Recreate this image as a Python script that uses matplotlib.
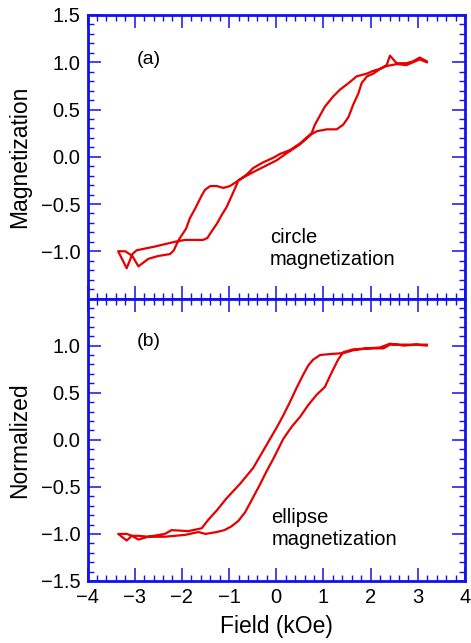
import numpy as np
import matplotlib
matplotlib.use('Agg')
import matplotlib.pyplot as plt
from matplotlib.ticker import MultipleLocator

plt.rcParams['font.family'] = ['Liberation Sans', 'DejaVu Sans']

# (a) circle magnetization: descending branch (+H -> -H), then ascending branch
a_desc_h = [3.19, 3.04, 2.90, 2.76, 2.55, 2.41, 2.34, 2.20, 2.06, 1.92, 1.70, 1.56,
            1.35, 1.21, 1.03, 0.93, 0.82, 0.75, 0.50, 0.29, 0.08, -0.06, -0.28, -0.49,
            -0.63, -0.80, -0.98, -1.12, -1.26, -1.40, -1.51, -1.58, -1.65, -1.72, -1.83,
            -1.91, -2.08, -2.17, -2.25, -2.50, -2.71, -2.92, -3.05, -3.20, -3.35]
a_desc_m = [1.01, 1.05, 1.01, 0.99, 0.99, 1.07, 0.97, 0.93, 0.91, 0.88, 0.85, 0.79,
            0.71, 0.64, 0.53, 0.44, 0.34, 0.25, 0.14, 0.07, 0.03, -0.01, -0.06, -0.12,
            -0.19, -0.25, -0.31, -0.33, -0.31, -0.31, -0.35, -0.41, -0.48, -0.55, -0.65,
            -0.76, -0.89, -0.99, -1.03, -1.05, -1.08, -1.16, -1.05, -1.00, -1.00]
a_asc_h = [-3.35, -3.17, -3.05, -2.96, -2.57, -2.15, -1.93, -1.76, -1.55, -1.46, -1.37,
           -1.26, -1.16, -1.05, -0.95, -0.87, -0.80, -0.63, -0.40, -0.20, 0.00, 0.20,
           0.50, 0.75, 0.86, 1.07, 1.28, 1.42, 1.53, 1.63, 1.74, 1.81, 1.92, 2.06, 2.20,
           2.34, 2.55, 2.76, 2.90, 3.04, 3.19]
a_asc_m = [-1.00, -1.18, -1.03, -0.99, -0.95, -0.90, -0.88, -0.88, -0.88, -0.86, -0.79,
           -0.71, -0.62, -0.53, -0.42, -0.33, -0.25, -0.20, -0.14, -0.09, -0.04, 0.03,
           0.13, 0.24, 0.27, 0.29, 0.29, 0.34, 0.42, 0.55, 0.67, 0.78, 0.85, 0.88, 0.93,
           0.96, 0.98, 0.97, 1.00, 1.03, 1.00]

# (b) ellipse magnetization
b_desc_h = [3.19, 2.97, 2.41, 2.27, 1.92, 1.63, 1.42, 1.14, 0.93, 0.78, 0.68, 0.57,
            0.43, 0.29, 0.15, 0.01, -0.13, -0.28, -0.49, -0.77, -1.05, -1.26, -1.44,
            -1.58, -1.86, -2.22, -2.36, -2.71, -2.92, -3.06, -3.17, -3.35]
b_desc_m = [1.01, 1.01, 1.01, 0.97, 0.97, 0.95, 0.92, 0.91, 0.90, 0.85, 0.79, 0.69,
            0.55, 0.40, 0.26, 0.13, 0.01, -0.12, -0.30, -0.47, -0.62, -0.75, -0.85,
            -0.94, -0.97, -0.96, -1.00, -1.03, -1.06, -1.02, -1.07, -1.00]
b_asc_h = [-3.35, -3.17, -3.06, -2.92, -2.71, -2.36, -1.93, -1.65, -1.50, -1.26, -1.10,
           -0.95, -0.80, -0.66, -0.52, -0.35, -0.20, -0.06, 0.01, 0.15, 0.33, 0.50, 0.68,
           0.86, 1.03, 1.17, 1.31, 1.42, 1.63, 1.92, 2.20, 2.41, 2.70, 2.97, 3.19]
b_asc_m = [-1.00, -1.00, -1.02, -1.02, -1.03, -1.03, -1.01, -0.98, -1.00, -0.98, -0.96,
           -0.92, -0.86, -0.77, -0.64, -0.48, -0.33, -0.20, -0.13, 0.01, 0.14, 0.24, 0.37,
           0.48, 0.56, 0.71, 0.85, 0.93, 0.96, 0.97, 0.98, 1.02, 1.00, 1.01, 1.00]

RED = '#e60000'
BLUE = '#1010f0'

W, H = 471, 643
fig = plt.figure(figsize=(W / 100, H / 100), dpi=100)
left, width = 87.5 / W, 377.5 / W
ax_a = fig.add_axes([left, 1 - 298.5 / H, width, (298.5 - 15) / H])
ax_b = fig.add_axes([left, 1 - 581 / H, width, (581 - 298.5) / H])


def style(ax):
    ax.set_xlim(-4, 4)
    ax.set_ylim(-1.5, 1.5)
    ax.xaxis.set_major_locator(MultipleLocator(1))
    ax.xaxis.set_minor_locator(MultipleLocator(0.2))
    ax.yaxis.set_major_locator(MultipleLocator(0.5))
    ax.yaxis.set_minor_locator(MultipleLocator(0.1))
    ax.tick_params(which='both', direction='in', top=True, right=True, color=BLUE,
                   labelsize=14.5, pad=5)
    ax.tick_params(which='major', length=9.5, width=1.1)
    ax.tick_params(which='minor', length=4.5, width=1.0)
    for s in ax.spines.values():
        s.set_color(BLUE)
        s.set_linewidth(2.0)


style(ax_a)
style(ax_b)

ax_a.plot(a_desc_h + a_asc_h, a_desc_m + a_asc_m, color=RED, lw=1.6)
ax_b.plot(b_desc_h + b_asc_h, b_desc_m + b_asc_m, color=RED, lw=1.6)

# top panel drops the -1.5 label, bottom panel drops the 1.5 label
ax_a.yaxis.set_major_formatter(plt.FuncFormatter(
    lambda v, p: '' if v < -1.4 else f'{v:.1f}'.replace('-', '\u2212')))
ax_b.yaxis.set_major_formatter(plt.FuncFormatter(
    lambda v, p: '' if v > 1.4 else f'{v:.1f}'.replace('-', '\u2212')))
ax_a.tick_params(labelbottom=False)
ax_b.xaxis.set_major_formatter(plt.FuncFormatter(
    lambda v, p: f'{v:.0f}'.replace('-', '\u2212')))

ax_a.set_ylabel('Magnetization', fontsize=16.5)
ax_b.set_ylabel('Normalized', fontsize=16.5)
ax_a.yaxis.set_label_coords(-0.15, 0.5)
ax_b.yaxis.set_label_coords(-0.15, 0.5)
ax_b.set_xlabel('Field (kOe)', fontsize=16.5)
ax_b.xaxis.set_label_coords(0.5, -0.12)

ax_a.text(-2.95, 1.03, '(a)', fontsize=14, ha='left', va='center')
ax_a.text(-0.13, -0.97, 'circle\nmagnetization', fontsize=14.5, ha='left', va='center',
          linespacing=1.2)
ax_b.text(-2.95, 1.04, '(b)', fontsize=14, ha='left', va='center')
ax_b.text(-0.10, -0.945, 'ellipse\nmagnetization', fontsize=14.5, ha='left', va='center',
          linespacing=1.2)

fig.savefig('out.png', dpi=100)
